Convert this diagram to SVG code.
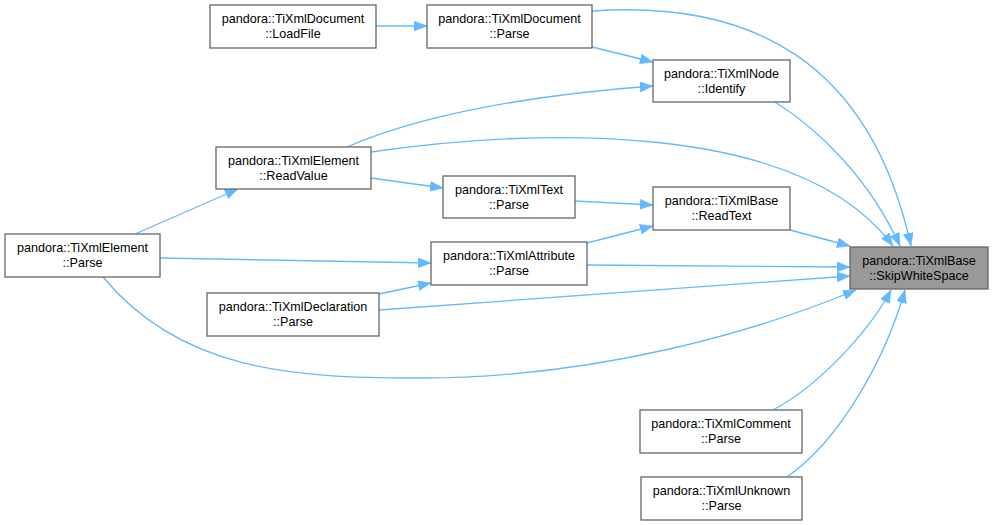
<svg xmlns="http://www.w3.org/2000/svg" width="992" height="525" viewBox="0 0 992 525">
<style>
.node rect{fill:#ffffff;stroke:#666666;stroke-width:1.3}
#skip rect{fill:#999999}
.node text{font-family:"Liberation Sans",Arial,sans-serif;font-size:12.6px;fill:#000000;text-anchor:middle}
.edge{fill:none;stroke:#63b8ff;stroke-width:1.3;marker-end:url(#arr)}
</style>
<defs>
<marker id="arr" markerUnits="userSpaceOnUse" markerWidth="14" markerHeight="11" refX="13" refY="5" orient="auto">
<path d="M0,0 L13,5 L0,10 z" fill="#63b8ff" stroke="#63b8ff" stroke-width="0.5"/>
</marker>
</defs>
<rect width="992" height="525" fill="#ffffff"/>
<g id="edges">
<path class="edge" d="M376,26 L427,26"/>
<path class="edge" d="M592,47 L653,62"/>
<path class="edge" d="M592,11 C750,0 870,60 911,246"/>
<path class="edge" d="M347,147 C420,115 530,95 653,86"/>
<path class="edge" d="M371,152 C540,128 800,120 893,246"/>
<path class="edge" d="M371,178 L443,188"/>
<path class="edge" d="M575,201 L653,205"/>
<path class="edge" d="M790,230 L850,246"/>
<path class="edge" d="M775,102 C820,130 870,180 900,246"/>
<path class="edge" d="M135,234 L238,189"/>
<path class="edge" d="M160,258 L431,263"/>
<path class="edge" d="M103,277 C180,370 290,378 420,378 C600,378 760,330 856,290"/>
<path class="edge" d="M587,243 L653,226"/>
<path class="edge" d="M587,265 L850,267"/>
<path class="edge" d="M379,294 L431,283"/>
<path class="edge" d="M379,310 L850,276"/>
<path class="edge" d="M773,410 C820,385 870,330 891,290"/>
<path class="edge" d="M787,477 C840,440 885,360 905,290"/>
</g>
<g id="loadfile" class="node"><rect x="210" y="5" width="166" height="43"/><text x="293" y="23">pandora::TiXmlDocument</text><text x="293" y="38">::LoadFile</text></g>
<g id="docparse" class="node"><rect x="427" y="5" width="165" height="43"/><text x="509.5" y="23">pandora::TiXmlDocument</text><text x="509.5" y="38">::Parse</text></g>
<g id="identify" class="node"><rect x="653" y="60" width="137" height="42"/><text x="721.5" y="78">pandora::TiXmlNode</text><text x="721.5" y="93">::Identify</text></g>
<g id="readvalue" class="node"><rect x="216" y="147" width="155" height="42"/><text x="293.5" y="165">pandora::TiXmlElement</text><text x="293.5" y="180">::ReadValue</text></g>
<g id="textparse" class="node"><rect x="443" y="176" width="132" height="42"/><text x="509" y="194">pandora::TiXmlText</text><text x="509" y="209">::Parse</text></g>
<g id="readtext" class="node"><rect x="653" y="187" width="137" height="43"/><text x="721.5" y="205">pandora::TiXmlBase</text><text x="721.5" y="220">::ReadText</text></g>
<g id="elemparse" class="node"><rect x="5" y="234" width="155" height="43"/><text x="82.5" y="252">pandora::TiXmlElement</text><text x="82.5" y="267">::Parse</text></g>
<g id="attrparse" class="node"><rect x="431" y="242" width="156" height="43"/><text x="509" y="260">pandora::TiXmlAttribute</text><text x="509" y="275">::Parse</text></g>
<g id="declparse" class="node"><rect x="207" y="293" width="172" height="43"/><text x="293" y="311">pandora::TiXmlDeclaration</text><text x="293" y="326">::Parse</text></g>
<g id="skip" class="node"><rect x="850" y="247" width="138" height="42"/><text x="919" y="265">pandora::TiXmlBase</text><text x="919" y="280">::SkipWhiteSpace</text></g>
<g id="commentparse" class="node"><rect x="640" y="410" width="162" height="43"/><text x="721" y="428">pandora::TiXmlComment</text><text x="721" y="443">::Parse</text></g>
<g id="unknownparse" class="node"><rect x="641" y="477" width="161" height="43"/><text x="721.5" y="495">pandora::TiXmlUnknown</text><text x="721.5" y="510">::Parse</text></g>
</svg>
